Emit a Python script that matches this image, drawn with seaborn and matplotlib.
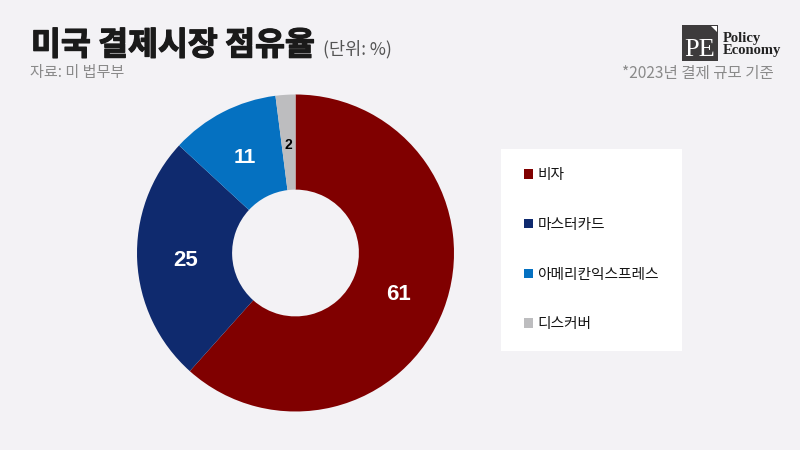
import matplotlib
matplotlib.use("Agg")
import matplotlib.pyplot as plt
import matplotlib.patheffects as pe
from matplotlib.patches import Rectangle, Polygon
import seaborn as sns

# Market share of US payment networks (2023, %)
brands = ["비자", "마스터카드", "아메리칸익스프레스", "디스커버"]
shares = [61, 25, 11, 2]
colors = ["#800000", "#0f2a6e", "#0571c1", "#bdbdbf"]
label_colors = ["white", "white", "white", "black"]
label_sizes = [16, 16, 15, 10]

title = "미국 결제시장 점유율"
unit = "(단위: %)"
source = "자료: 미 법무부"
note = "*2023년 결제 규모 기준"

BG = "#f3f2f5"
W, H = 800, 450

sns.set_theme(style="white", rc={"figure.facecolor": BG, "axes.facecolor": BG})
plt.rcParams["font.family"] = ["Noto Sans CJK KR", "DejaVu Sans"]
palette = sns.color_palette(colors)

fig = plt.figure(figsize=(W / 100, H / 100), dpi=100)
fig.patch.set_facecolor(BG)

# donut axes, sized in pixels
cx, cy, r = 295.5, 197.0, 158.5
ax = fig.add_axes([(cx - r) / W, (cy - r) / H, 2 * r / W, 2 * r / H])
ax.set_facecolor("none")
wedges, texts = ax.pie(
    shares,
    colors=palette,
    startangle=90,
    counterclock=False,
    radius=1.0,
    wedgeprops=dict(width=0.6, linewidth=0),
    labels=[str(v) for v in shares],
    labeldistance=0.695,
)
for t, c, s in zip(texts, label_colors, label_sizes):
    t.set_color(c)
    t.set_fontsize(s)
    t.set_fontweight("bold")
    t.set_family(["Liberation Sans", "DejaVu Sans"])
    t.set_ha("center")
    t.set_va("center_baseline")
ax.set_xlim(-1, 1)
ax.set_ylim(-1, 1)
ax.set_aspect("equal")
ax.axis("off")

# legend panel
def px(x, y):
    return x / W, 1 - y / H

bx0, by0, bx1, by1 = 501, 149, 682, 351
fig.patches.append(Rectangle(px(bx0, by1), (bx1 - bx0) / W, (by1 - by0) / H,
                             transform=fig.transFigure, facecolor="white",
                             edgecolor="none", zorder=0))
leg = fig.legend(
    wedges, brands,
    loc="upper left", bbox_to_anchor=px(511, 155),
    frameon=False, prop={"size": 10.6, "weight": "medium"},
    handlelength=0.6, handleheight=0.6, handletextpad=0.3,
    labelspacing=2.42,
)
for t in leg.get_texts():
    t.set_color("#151515")

# header texts
fig.text(*px(31, 55), title, fontsize=23.4, fontweight="heavy", color="#1a1a1a",
         ha="left", va="baseline",
         path_effects=[pe.withStroke(linewidth=0.9, foreground="#1a1a1a")])
fig.text(*px(323, 54), unit, fontsize=12.6, color="#555555", ha="left", va="baseline")
fig.text(*px(30, 77), source, fontsize=10.9, color="#8a8a8a", ha="left", va="baseline")
fig.text(*px(774, 78), note, fontsize=11.2, color="#8a8a8a", ha="right", va="baseline")

# brand mark
fig.patches.append(Rectangle(px(682, 61), 36 / W, 36 / H, transform=fig.transFigure,
                             facecolor="#3d3b3c", edgecolor="none"))
fig.patches.append(Polygon([px(711, 26), px(717, 26), px(717, 32)], closed=True,
                           transform=fig.transFigure, facecolor="white", edgecolor="none"))
fig.text(*px(700, 56), "PE", family="Liberation Serif", fontsize=19, color="white",
         ha="center", va="baseline")
fig.text(*px(723, 42), "Policy", family="Liberation Serif", fontweight="bold",
         fontsize=10.5, color="#222222", ha="left", va="baseline")
fig.text(*px(723, 54), "Economy", family="Liberation Serif", fontweight="bold",
         fontsize=10.5, color="#222222", ha="left", va="baseline")

fig.savefig("out.png", dpi=100, facecolor=BG)
